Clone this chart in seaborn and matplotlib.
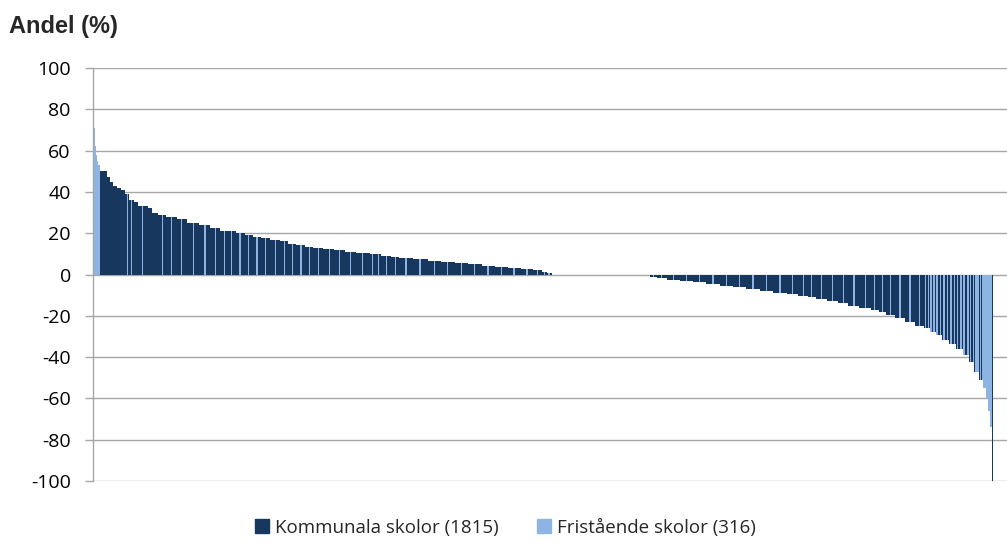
import numpy as np
import pandas as pd
import seaborn as sns
import matplotlib.pyplot as plt
from matplotlib.lines import Line2D

# Andel (%) per skola, sorterat fallande, avläst som nivåer:
# nivå, antal skolor på nivån, varav fristående
niva = [100, 71, 62, 58, 55, 53, 50, 47, 45, 43, 42, 41, 39, 36, 35, 33, 32, 30, 29, 28, 27, 25, 24, 22.5, 21,
        20, 19, 18, 17.5, 16.5, 16, 15, 14.5, 13.5, 13, 12.5, 12, 11, 10.3, 9.8, 9, 8.3, 7.8, 7.3, 6.7, 6, 5.5,
        4.9, 4.3, 3.8, 3.3, 2.8, 2.3, 1.4, 0.6,
        0,
        -1, -1.8, -2.7, -3.1, -3.8, -4.7, -5.4, -6.2, -7, -7.8, -8.8, -9.6, -10.3, -10.7, -12, -12.8, -14,
        -15.1, -16.4, -17.2, -18, -19.6, -20.9, -22.8, -24.9, -26, -27.7, -29.3, -31.7, -33.8, -36.1, -39,
        -42.2, -47, -51, -55, -60, -66, -74, -100]
antal = [1, 3, 3, 3, 3, 4, 17, 6, 8, 8, 10, 10, 10, 12, 8, 24, 10, 14, 20, 24, 24, 30, 26, 24, 36,
         21, 19, 21, 21, 24, 19, 19, 21, 19, 24, 26, 24, 26, 33, 28, 24, 19, 31, 36, 31, 33, 31,
         33, 31, 31, 31, 28, 21, 12, 12,
         232,
         16, 24, 31, 31, 31, 33, 31, 31, 33, 31, 33, 26, 24, 19, 26, 26, 24,
         26, 28, 19, 16, 21, 24, 24, 21, 14, 14, 16, 16, 16, 16, 16,
         12, 12, 8, 8, 5, 4, 4, 3]
fristaende = [0, 3, 3, 3, 3, 4, 1, 1, 1, 1, 1, 1, 1, 2, 1, 2, 2, 2, 3, 2, 3, 3, 4, 3, 5,
              4, 3, 3, 3, 3, 3, 3, 3, 3, 3, 3, 3, 3, 3, 5, 3, 3, 3, 4, 3, 4, 3,
              4, 4, 3, 4, 4, 3, 3, 4,
              0,
              3, 3, 3, 3, 3, 3, 3, 3, 3, 3, 3, 3, 3, 2, 3, 3, 3,
              3, 3, 2, 2, 3, 3, 3, 3, 6, 7, 7, 7, 7, 8, 8,
              7, 8, 6, 6, 4, 4, 4, 0]

etiketter = ['Kommunala skolor (1815)', 'Fristående skolor (316)']
farger = ['#17375E', '#8DB4E2']


def fri_mask(n, m):
    # lägg de fristående skolorna i små grupper utspridda inom nivån
    mask = np.zeros(n, dtype=bool)
    if m == 0:
        return mask
    grupper = int(np.ceil(m / 4))
    storlek = [m // grupper + (1 if g < m % grupper else 0) for g in range(grupper)]
    for g, s in enumerate(storlek):
        start = int((g + 0.5) * n / grupper) - s // 2
        start = min(max(start, 0), n - s)
        mask[start:start + s] = True
    return mask


varden, typ = [], []
for v, n, m in zip(niva, antal, fristaende):
    mask = fri_mask(n, m)
    varden += [v] * n
    typ += [etiketter[1] if f else etiketter[0] for f in mask]

df = pd.DataFrame({'skola': np.arange(len(varden)) + 0.5, 'Andel': varden, 'Typ': typ})

sns.set_style('white')
plt.rcParams['font.family'] = ['Open Sans', 'DejaVu Sans']
plt.rcParams['axes.unicode_minus'] = False

fig = plt.figure(figsize=(10.07, 5.42), dpi=100)
ax = fig.add_axes([93 / 1007, 1 - 481 / 542, 1 - 93 / 1007, 413 / 542])

sns.barplot(data=df, x='skola', y='Andel', hue='Typ', hue_order=etiketter, palette=farger,
            saturation=1, native_scale=True, dodge=False, width=1, errorbar=None, linewidth=0,
            antialiased=False, legend=False, ax=ax)

ax.set_ylim(-100, 100)
ax.set_xlim(0, len(varden) * 914 / 900)
ax.set_yticks(range(-100, 101, 20))
ax.set_xticks([])
ax.set_xlabel('')
ax.set_ylabel('')
ax.yaxis.grid(True, color='#A6A6A6', lw=1)
ax.set_axisbelow(True)
for s in ['top', 'right', 'bottom']:
    ax.spines[s].set_visible(False)
ax.spines['left'].set_color('#A6A6A6')
ax.spines['left'].set_linewidth(1)
ax.tick_params(axis='y', left=True, length=6, width=1, color='#A6A6A6', pad=10,
               labelsize=14, labelcolor='black')

fig.text(0.009, 0.952, 'Andel (%)', fontsize=17, fontweight='bold', family='Liberation Sans',
         va='center')

handles = [Line2D([], [], marker='s', ls='', color=c, markersize=10) for c in farger]
fig.legend(handles, etiketter, loc='center', bbox_to_anchor=(0.502, 0.026), ncol=2, frameon=False,
           fontsize=13.5, handletextpad=0.3, columnspacing=2.0, handlelength=0.8)

plt.savefig('out.png', dpi=100)
